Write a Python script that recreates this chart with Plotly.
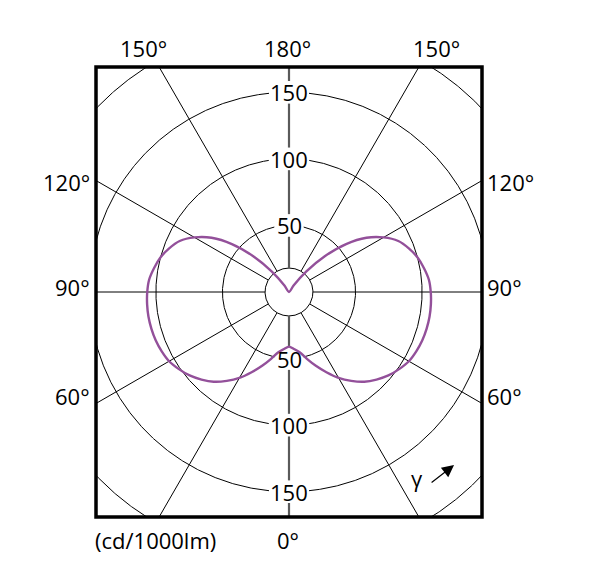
import numpy as np
import plotly.graph_objects as go

# ---- data ----
gamma_deg = [0, 5, 10, 15, 20, 25, 30, 35, 40, 45, 50, 55, 60, 65, 70, 75, 80, 85, 90,
             95, 100, 105, 110, 115, 120, 125, 130, 135, 140, 145, 150, 155, 160, 165,
             170, 175, 180]
intensity = [41, 43, 46, 52, 59, 66.5, 74.5, 81.5, 88, 93, 97.5, 101, 104, 105.5, 106.5,
             107, 107.2, 107, 106.5, 105.5, 103, 100, 95.8, 90.6, 82, 71, 56, 38, 20, 6,
             0, 0, 0, 0, 0, 0, 0]
circle_levels = [50, 100, 150, 200]
labelled_levels = [50, 100, 150]
inner_radius = 18
spoke_angles = [30, 60, 90, 120, 150]
top_labels = ["150°", "180°", "150°"]
side_labels = ["120°", "90°", "60°"]
unit_label = "(cd/1000lm)"
bottom_label = "0°"

FONT = "Open Sans"
CURVE = "#93509a"
OFF = 8  # page body margin
FS = 22

fig = go.Figure()

def half_width(lv):
    return 11 if lv < 100 else 15
GAP_H = 8.5

# circles, broken where the level labels sit
t = np.linspace(0, 2 * np.pi, 1441)
for lv in circle_levels + [inner_radius]:
    x = lv * np.sin(t)
    y = lv * np.cos(t)
    if lv in labelled_levels:
        x = np.where(np.abs(x) < half_width(lv), np.nan, x)
    fig.add_trace(go.Scatter(x=x, y=y, mode="lines", connectgaps=False,
                             line=dict(color="black", width=1), hoverinfo="skip"))

# spokes (both sides)
R_OUT = 400
for a in spoke_angles:
    for sgn in (-1, 1):
        g = np.radians(a) * sgn
        fig.add_trace(go.Scatter(
            x=[inner_radius * np.sin(g), R_OUT * np.sin(g)],
            y=[-inner_radius * np.cos(g), -R_OUT * np.cos(g)],
            mode="lines", line=dict(color="black", width=1), hoverinfo="skip"))

# vertical (0° / 180°) axis line, grey, broken at the labels
stops = [inner_radius] + [v for lv in labelled_levels for v in (lv - GAP_H, lv + GAP_H)] + [R_OUT]
for sgn in (-1, 1):
    xs, ys = [], []
    for i in range(0, len(stops), 2):
        xs += [0, 0, None]
        ys += [sgn * stops[i], sgn * stops[i + 1], None]
    fig.add_trace(go.Scatter(x=xs, y=ys, mode="lines",
                             line=dict(color="#5a5a5a", width=2.2), hoverinfo="skip"))

# intensity curve (mirror left/right)
g = np.radians(np.array(gamma_deg, dtype=float))
r = np.array(intensity, dtype=float)
xr = r * np.sin(g)
yr = -r * np.cos(g)
xa = np.concatenate([-xr[::-1], xr[1:]])
ya = np.concatenate([yr[::-1], yr[1:]])
keep = [0] + [i for i in range(1, len(xa))
              if abs(xa[i] - xa[i - 1]) > 1e-9 or abs(ya[i] - ya[i - 1]) > 1e-9]
fig.add_trace(go.Scatter(x=xa[keep], y=ya[keep], mode="lines",
                         line=dict(color=CURVE, width=2.4, shape="spline", smoothing=0.8),
                         hoverinfo="skip"))

ann = []
for lv in labelled_levels:
    for sgn in (1, -1):
        ann.append(dict(x=0, y=sgn * lv, xref="x", yref="y", text=str(lv), showarrow=False,
                        font=dict(family=FONT, size=FS, color="black")))

W, H = 386, 450
L, T = 96 - OFF, 67 - OFF
FW, FH = 600 - OFF, 584 - OFF
def px(xp):
    return (xp - OFF - L) / W
def py(yp):
    return (T + H - (yp - OFF)) / H

for txt, xc in zip(top_labels, [143, 287, 436]):
    ann.append(dict(x=px(xc), y=py(48), xref="paper", yref="paper", text=txt,
                    showarrow=False, xanchor="center", yanchor="middle",
                    font=dict(family=FONT, size=FS, color="black")))
for txt, yc in zip(side_labels, [182, 287, 396]):
    ann.append(dict(x=px(92), y=py(yc), xref="paper", yref="paper", text=txt,
                    showarrow=False, xanchor="right", yanchor="middle",
                    font=dict(family=FONT, size=FS, color="black")))
    ann.append(dict(x=px(485), y=py(yc), xref="paper", yref="paper", text=txt,
                    showarrow=False, xanchor="left", yanchor="middle",
                    font=dict(family=FONT, size=FS, color="black")))
ann.append(dict(x=px(93), y=py(540), xref="paper", yref="paper", text=unit_label,
                showarrow=False, xanchor="left", yanchor="middle",
                font=dict(family=FONT, size=FS, color="black")))
ann.append(dict(x=px(288), y=py(540), xref="paper", yref="paper", text=bottom_label,
                showarrow=False, xanchor="center", yanchor="middle",
                font=dict(family=FONT, size=FS, color="black")))
ann.append(dict(x=96, y=-140, xref="x", yref="y", text="γ", showarrow=False,
                font=dict(family=FONT, size=FS, color="black")))
ann.append(dict(x=124, y=-130, ax=106, ay=-144, xref="x", yref="y", axref="x", ayref="y",
                text="", showarrow=True, arrowhead=2, arrowsize=2, arrowwidth=1.2,
                arrowcolor="black"))

fig.update_layout(
    width=FW, height=FH,
    margin=dict(l=L, r=FW - L - W, t=T, b=FH - T - H),
    paper_bgcolor="white", plot_bgcolor="white",
    showlegend=False,
    xaxis=dict(range=[-145, 145], visible=False, fixedrange=True),
    yaxis=dict(range=[-169, 169], visible=False, fixedrange=True),
    annotations=ann,
    shapes=[dict(type="rect", xref="paper", yref="paper", x0=0, y0=0, x1=1, y1=1,
                 line=dict(color="black", width=3.5), layer="above")],
)

fig.write_html("out.html")
